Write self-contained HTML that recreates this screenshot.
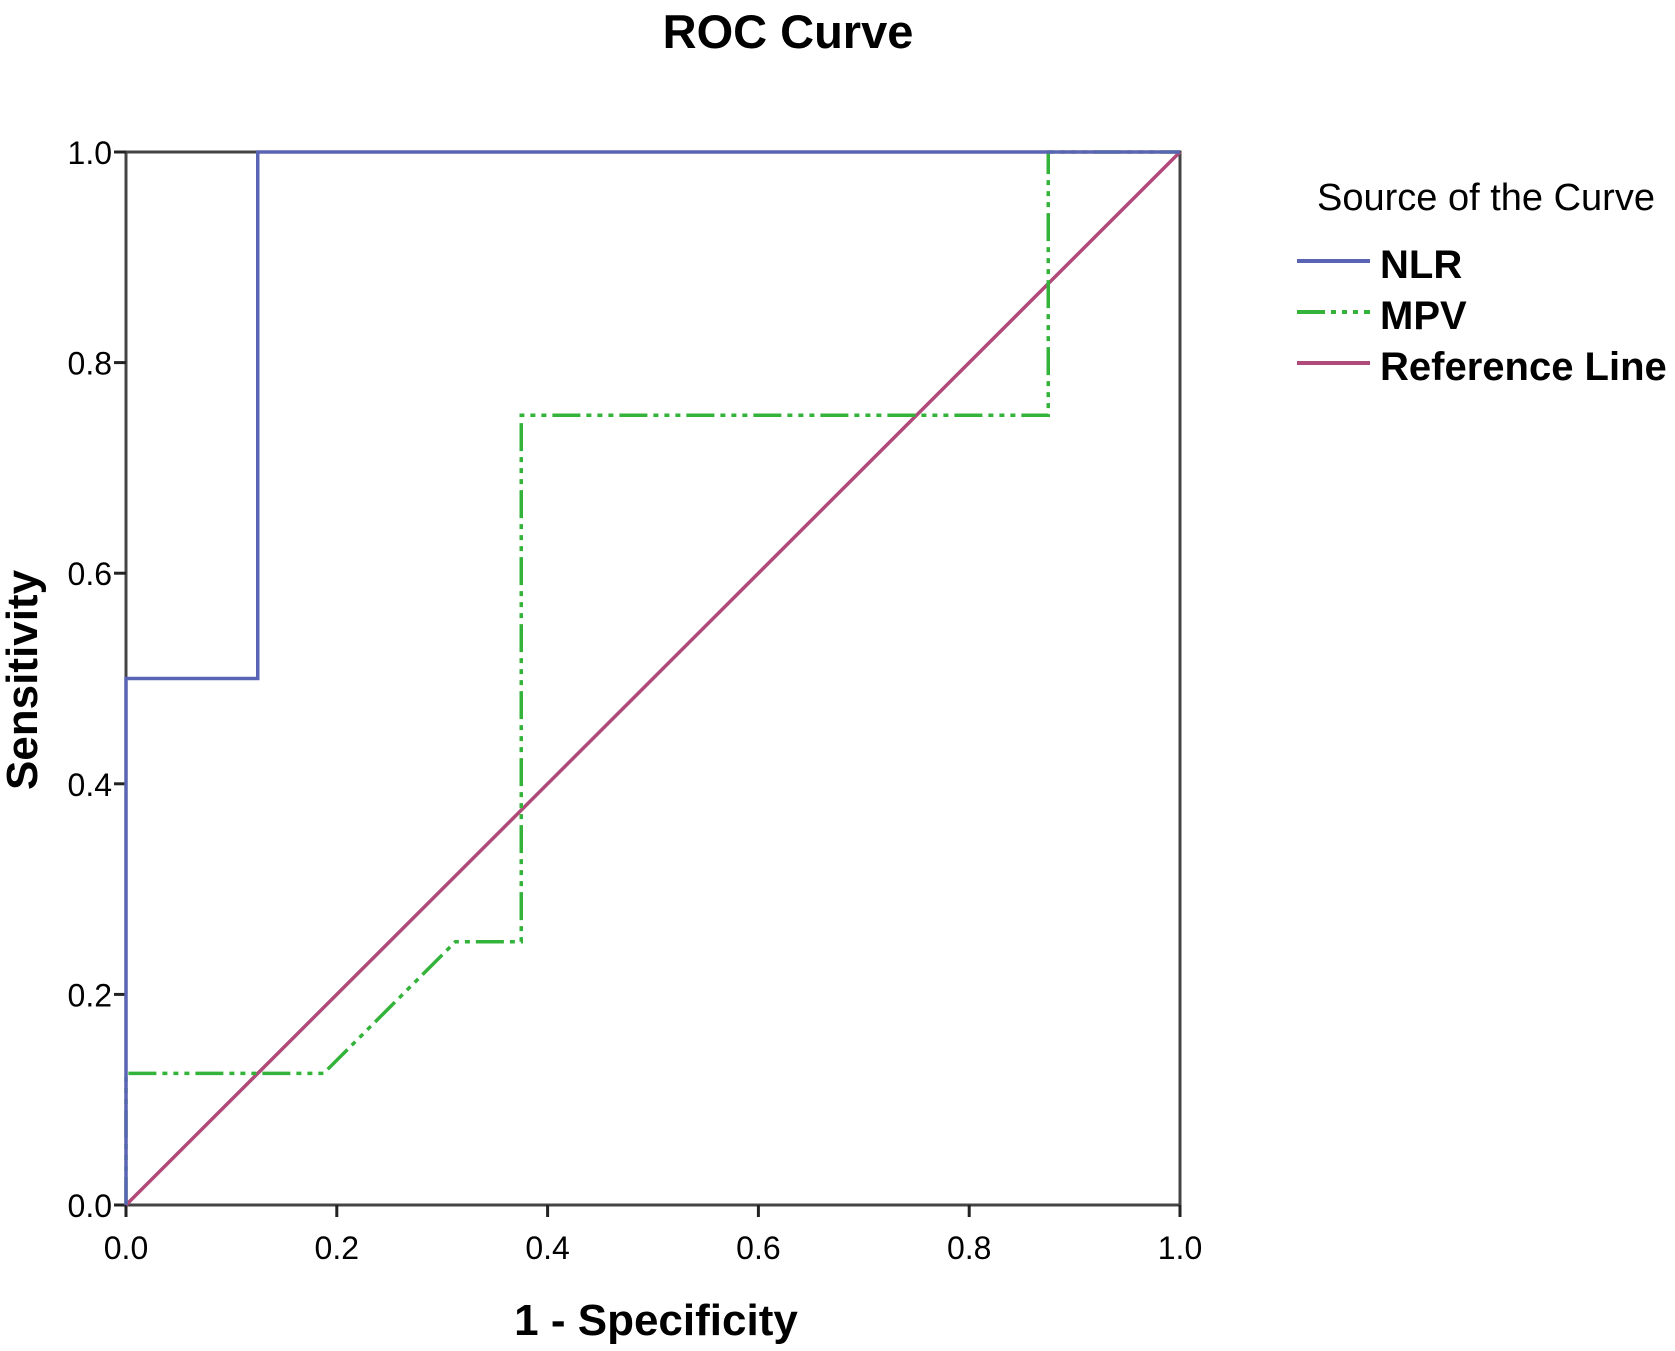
<!DOCTYPE html>
<html><head><meta charset="utf-8"><style>
body{margin:0;background:#fff;}
svg{display:block;font-family:"Liberation Sans",Arial,sans-serif;}
</style></head><body>
<svg id="chart" width="1675" height="1351" viewBox="0 0 1675 1351">
<text x="788" y="48" text-anchor="middle" font-size="47" font-weight="bold">ROC Curve</text>
<g id="plot"></g>
<text transform="translate(37,680) rotate(-90)" text-anchor="middle" font-size="44" font-weight="bold">Sensitivity</text>
<text x="656" y="1335" text-anchor="middle" font-size="44" font-weight="bold">1 - Specificity</text>
<g>
<text x="1486" y="210" text-anchor="middle" font-size="38">Source of the Curve</text>
<g><line x1="1297" y1="261" x2="1370" y2="261" stroke="#5a64b4" stroke-width="4"/><text x="1380" y="278" font-size="40" font-weight="bold">NLR</text></g>
<g><line x1="1297" y1="312" x2="1370" y2="312" stroke="#33b33a" stroke-width="4" stroke-dasharray="28,6,5,6,5,6,5,6"/><text x="1380" y="329" font-size="40" font-weight="bold">MPV</text></g>
<g><line x1="1297" y1="363" x2="1370" y2="363" stroke="#b04a78" stroke-width="4"/><text x="1380" y="380" font-size="40" font-weight="bold">Reference Line</text></g>
</g>
</svg>
<script>
const ticks = [0, 0.2, 0.4, 0.6, 0.8, 1.0];
const tickLabels = ["0.0","0.2","0.4","0.6","0.8","1.0"];
const nlrX = [0, 0, 0.125, 0.125, 1];
const nlrY = [0, 0.5, 0.5, 1, 1];
const mpvX = [0, 0, 0.1875, 0.3125, 0.375, 0.375, 0.875, 0.875, 1];
const mpvY = [0, 0.125, 0.125, 0.25, 0.25, 0.75, 0.75, 1, 1];
const refX = [0, 1];
const refY = [0, 1];

const X0=126, X1=1180, Y0=1205, Y1=152;
const sx = v => X0 + v*(X1-X0);
const sy = v => Y0 - v*(Y0-Y1);
const NS="http://www.w3.org/2000/svg";
const g=document.getElementById('plot');
function mk(tag, attrs){const e=document.createElementNS(NS,tag);for(const k in attrs)e.setAttribute(k,attrs[k]);g.appendChild(e);return e;}

const frame=mk('rect',{x:X0,y:Y1,width:X1-X0,height:Y0-Y1,fill:'none',stroke:'#444',"stroke-width":3});



ticks.forEach((t,i)=>{
  const a=mk('line',{x1:sx(t),y1:Y0,x2:sx(t),y2:Y0+12,stroke:'#222',"stroke-width":3});
  
  
  const b=mk('text',{x:sx(t),y:Y0+54,"text-anchor":"middle","font-size":32});
  b.textContent=tickLabels[i];
  
  
  const c=mk('line',{x1:X0-12,y1:sy(t),x2:X0,y2:sy(t),stroke:'#222',"stroke-width":3});
  
  
  const d=mk('text',{x:X0-14,y:sy(t)+12,"text-anchor":"end","font-size":32});
  d.textContent=tickLabels[i];
  
  
});

function pts(xs,ys){return xs.map((x,i)=>sx(x)+','+sy(ys[i])).join(' ');}
const ref=mk('polyline',{points:pts(refX,refY),fill:'none',stroke:'#b04a78',"stroke-width":3.5});


const mpv=mk('polyline',{points:pts(mpvX,mpvY),fill:'none',stroke:'#33b33a',"stroke-width":3.5,"stroke-dasharray":"28,6,5,6,5,6,5,6"});


const nlr=mk('polyline',{points:pts(nlrX,nlrY),fill:'none',stroke:'#5a64b4',"stroke-width":3.5});


</script>
</body></html>
